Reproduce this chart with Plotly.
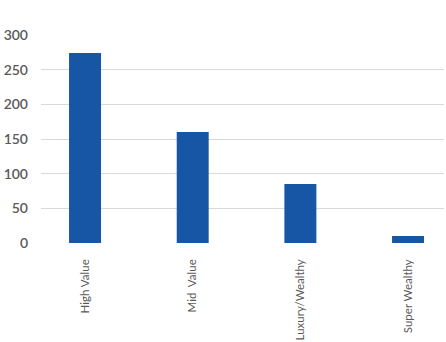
import plotly.graph_objects as go

categories = ["High Value", "Mid\u00a0 Value", "Luxury/Wealthy", "Super Wealthy"]
values = [274, 160, 85, 10]
y_ticks = [0, 50, 100, 150, 200, 250, 300]

fig = go.Figure(go.Bar(
    x=list(range(len(categories))),
    y=values,
    width=0.297,
    marker=dict(color="#1656A5", line=dict(width=0)),
))

fig.update_layout(
    width=446, height=342,
    margin=dict(l=41, r=2, t=35, b=99),
    paper_bgcolor="white", plot_bgcolor="white",
    showlegend=False,
    font=dict(family="Lato", color="#595959"),
    xaxis=dict(
        tickmode="array",
        tickvals=list(range(len(categories))),
        ticktext=categories,
        range=[-0.409, 3.334],
        tickangle=-90,
        tickfont=dict(size=11.5, color="#595959"),
        showgrid=False, zeroline=False, showline=False,
        ticks="", ticklabelstandoff=13,
        fixedrange=True,
    ),
    yaxis=dict(
        range=[0, 300],
        tickvals=y_ticks,
        tickfont=dict(size=14, color="#595959", weight=600),
        showgrid=True, gridcolor="#D9D9D9", gridwidth=1,
        zeroline=False, showline=False,
        ticks="", ticklabelstandoff=12,
        fixedrange=True,
    ),
)

fig.write_html("out.html")
